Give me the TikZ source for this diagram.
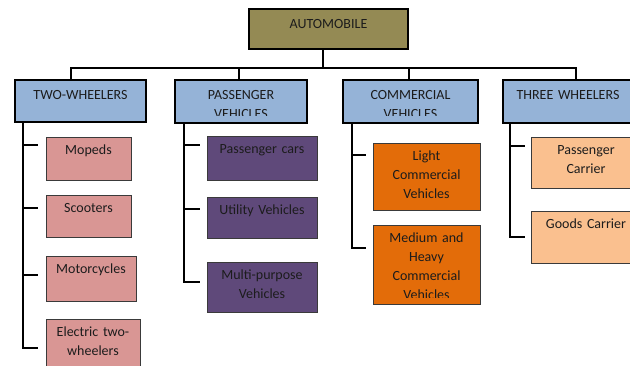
\documentclass[tikz,border=0pt]{standalone}
\usepackage{fontspec}
\setmainfont{Carlito}
\definecolor{rootc}{HTML}{948A54}
\definecolor{lvc}{HTML}{95B3D7}
\definecolor{pinkc}{HTML}{D99694}
\definecolor{purpc}{HTML}{5F497A}
\definecolor{orc}{HTML}{E36C09}
\definecolor{peachc}{HTML}{FAC08F}
\definecolor{kidborder}{HTML}{3A3A3A}
\definecolor{txtc}{HTML}{1C1C1C}
\tikzset{
  every node/.style={inner sep=0pt, outer sep=0pt},
  boxtext/.style n args={3}{path picture={
      \clip ([yshift=#2]path picture bounding box.south west) rectangle (path picture bounding box.north east);
      \node[anchor=base, align=center, text width=104pt, text=txtc,
            font=\fontsize{14}{19}\selectfont]
        at ([yshift=-#1]path picture bounding box.north) {#3};}},
  rootbox/.style={rectangle, draw=black, line width=2.6pt, fill=rootc, boxtext={19pt}{6pt}{#1}},
  lvbox/.style={rectangle, draw=black, line width=2.4pt, fill=lvc, boxtext={19pt}{8pt}{#1}},
  kidbox/.style={rectangle, draw=kidborder, line width=1pt, boxtext={17.5pt}{7pt}{#1}},
  conn/.style={draw=black, line width=2pt},
}
\begin{document}
\begin{tikzpicture}[x=1pt, y=-1pt]
\clip (0,0) rectangle (630,365);
\fill[white] (0,0) rectangle (630,365);

% root and level 1
\node[rootbox={AUTOMOBILE}, minimum width=159pt, minimum height=40pt] (root) at (328.5,29) {};
\node[lvbox={TWO-WHEELERS}, minimum width=131pt, minimum height=42pt] (tw) at (80.5,101) {};
\node[lvbox={PASSENGER\\VEHICLES}, minimum width=132pt, minimum height=43pt] (pv) at (241,101.5) {};
\node[lvbox={COMMERCIAL\\VEHICLES}, minimum width=135pt, minimum height=43pt] (cv) at (410.5,101.5) {};
\node[lvbox={THREE WHEELERS}, minimum width=130pt, minimum height=43pt] (th) at (568,101.5) {};

% kids: two-wheelers
\node[kidbox={Mopeds}, fill=pinkc, minimum width=85pt, minimum height=43pt] (mop) at (88.5,158.5) {};
\node[kidbox={Scooters}, fill=pinkc, minimum width=85pt, minimum height=42pt] (sco) at (88.5,216) {};
\node[kidbox={Motorcycles}, fill=pinkc, minimum width=90pt, minimum height=45pt] (mot) at (91,278.5) {};
\node[kidbox={Electric two-\\wheelers}, fill=pinkc, minimum width=94pt, minimum height=56pt] (ele) at (93,347) {};

% kids: passenger vehicles
\node[kidbox={Passenger cars}, fill=purpc, minimum width=110pt, minimum height=44pt] (pc) at (262,158) {};
\node[kidbox={Utility Vehicles}, fill=purpc, minimum width=110pt, minimum height=41pt] (uv) at (262,217.5) {};
\node[kidbox={Multi-purpose\\Vehicles}, fill=purpc, minimum width=110pt, minimum height=50pt] (mp) at (262,287) {};

% kids: commercial
\node[kidbox={Light\\Commercial\\Vehicles}, fill=orc, minimum width=107pt, minimum height=67pt] (lc) at (426.5,176.5) {};
\node[kidbox={Medium and\\Heavy\\Commercial\\Vehicles}, fill=orc, minimum width=107pt, minimum height=79pt] (mh) at (426.5,264.5) {};

% kids: three wheelers
\node[kidbox={Passenger\\Carrier}, fill=peachc, minimum width=110pt, minimum height=51pt] (pca) at (586,162.5) {};
\node[kidbox={Goods Carrier}, fill=peachc, minimum width=110pt, minimum height=52pt] (gc) at (586,237) {};

% junction coordinates
\coordinate (j0) at (323,68);
\coordinate (j1) at (71,68);
\coordinate (j2) at (239,68);
\coordinate (j3) at (409,68);
\coordinate (j4) at (576,68);

\draw[conn] (j0 |- root.south) -- (j0);
\draw[conn] (j1 |- tw.north) -- (j1) -- (j4) -- (j4 |- th.north);
\draw[conn] (j2) -- (j2 |- pv.north);
\draw[conn] (j3) -- (j3 |- cv.north);

% tick end coordinates
\coordinate (a1) at (38,145);
\coordinate (a2) at (38,208);
\coordinate (a3) at (38,275);
\coordinate (a4) at (38,348);
\coordinate (la) at (23,0);
\draw[conn] (la |- tw.south) -- (la |- a4) -- (a4);
\draw[conn] (la |- a1) -- (a1);
\draw[conn] (la |- a2) -- (a2);
\draw[conn] (la |- a3) -- (a3);

\coordinate (b1) at (200,145);
\coordinate (b2) at (200,209);
\coordinate (b3) at (200,282);
\coordinate (lb) at (184,0);
\draw[conn] (lb |- pv.south) -- (lb |- b3) -- (b3);
\draw[conn] (lb |- b1) -- (b1);
\draw[conn] (lb |- b2) -- (b2);

\coordinate (c1) at (366,155);
\coordinate (c2) at (366,248);
\coordinate (lcx) at (352,0);
\draw[conn] (lcx |- cv.south) -- (lcx |- c2) -- (c2);
\draw[conn] (lcx |- c1) -- (c1);

\coordinate (d1) at (525,146);
\coordinate (d2) at (525,237);
\coordinate (ld) at (510,0);
\draw[conn] (ld |- th.south) -- (ld |- d2) -- (d2);
\draw[conn] (ld |- d1) -- (d1);
\end{tikzpicture}
\end{document}
